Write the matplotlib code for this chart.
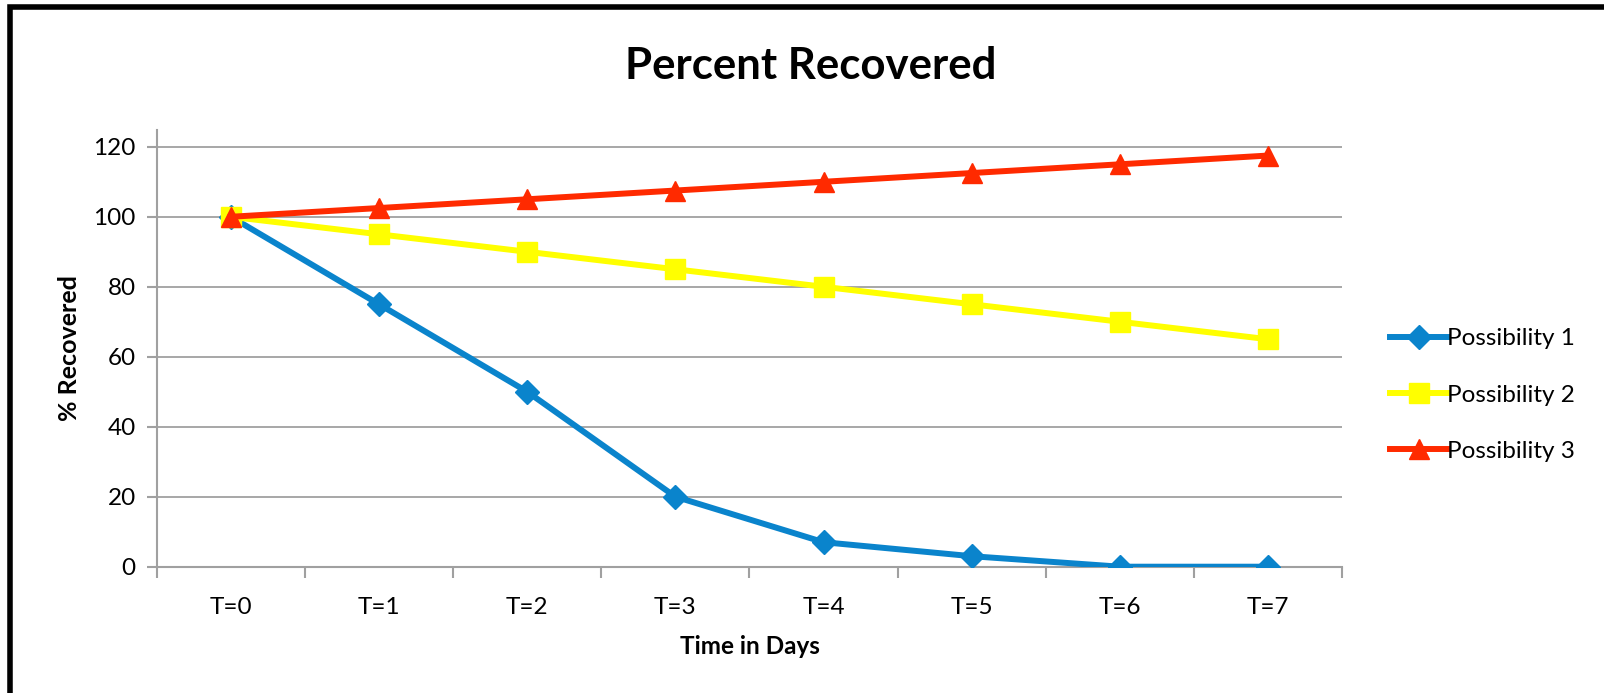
import matplotlib
matplotlib.use("Agg")
from matplotlib import pyplot as plt
from matplotlib.patches import Rectangle

# Chart data
categories = ['T=0', 'T=1', 'T=2', 'T=3', 'T=4', 'T=5', 'T=6', 'T=7']
possibility_1 = [100, 75, 50, 20, 7, 3, 0, 0]
possibility_2 = [100, 95, 90, 85, 80, 75, 70, 65]
possibility_3 = [100, 102.5, 105, 107.5, 110, 112.5, 115, 117.5]
series_names = ['Possibility 1', 'Possibility 2', 'Possibility 3']
y_ticks = [0, 20, 40, 60, 80, 100, 120]

plt.rcParams['font.family'] = ['Lato', 'DejaVu Sans']

W, H = 1604, 693
fig = plt.figure(figsize=(W / 100, H / 100), dpi=100)

# plot area in pixel coordinates
left, right, top, bottom = 156.7, 1342.3, 130, 566.7
ax = fig.add_axes([left / W, 1 - bottom / H, (right - left) / W, (bottom - top) / H])

x = list(range(len(categories)))
ax.plot(x, possibility_1, color='#0A84CC', lw=4.3, marker='D', ms=12, label=series_names[0], zorder=3)
ax.plot(x, possibility_2, color='#FFFF00', lw=4.3, marker='s', ms=15, label=series_names[1], zorder=4)
ax.plot(x, possibility_3, color='#FF2A00', lw=4.3, marker='^', ms=15, label=series_names[2], zorder=5)

ax.set_xlim(-0.5, len(categories) - 0.5)
ax.set_ylim(0, 124.8)
ax.set_yticks(y_ticks)
ax.set_yticklabels([str(v) for v in y_ticks], fontsize=17.5)
ax.set_xticks(x)
ax.set_xticklabels(categories, fontsize=17.5)
ax.tick_params(axis='x', length=0, pad=22)
ax.set_xticks([i - 0.5 for i in range(len(categories) + 1)], minor=True)
ax.tick_params(axis='x', which='minor', length=8, width=1.5, color='#A0A0A0')
ax.tick_params(axis='y', length=7, width=1.5, color='#A0A0A0', pad=8)

for v in y_ticks[1:]:
    ax.axhline(v, color='#A0A0A0', lw=1.3, zorder=1)

for s in ['top', 'right']:
    ax.spines[s].set_visible(False)
for s in ['left', 'bottom']:
    ax.spines[s].set_color('#A0A0A0')
    ax.spines[s].set_linewidth(1.5)

ax.set_xlabel('Time in Days', fontsize=17.5, fontweight='bold', labelpad=12)
ax.set_ylabel('% Recovered', fontsize=18, fontweight='bold', labelpad=9)

fig.text(811 / W, 1 - 66 / H, 'Percent Recovered', fontsize=31.5, fontweight='bold',
         ha='center', va='center')

leg = fig.legend(loc='center left', bbox_to_anchor=(1378 / W, 1 - 395 / H), frameon=False,
                 fontsize=17.5, handlelength=2.35, handletextpad=0.0, labelspacing=1.45,
                 borderpad=0)

# outer chart border (cropped on right and bottom)
fig.patches.append(Rectangle((9.5 / W, -0.1), 1.2, 1 - 7.5 / H + 0.1, transform=fig.transFigure,
                             fill=False, edgecolor='black', lw=4))

fig.savefig('out.png', dpi=100)
